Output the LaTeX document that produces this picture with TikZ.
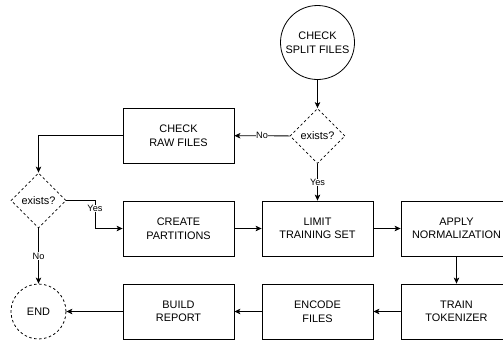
\documentclass[tikz,border=0pt]{standalone}
\usepackage{fontspec}
\setmainfont{Liberation Sans}
\usetikzlibrary{shapes.geometric,arrows.meta}
\begin{document}
\begin{tikzpicture}[x=1pt,y=-1pt,
 box/.style={draw,line width=0.8pt,minimum width=111pt,minimum height=55pt,inner sep=0pt,align=center,font=\fontsize{10.9}{13.5}\selectfont},
 dec/.style={draw,line width=0.8pt,dash pattern=on 2.5pt off 2.5pt,diamond,minimum width=55pt,minimum height=55pt,inner sep=0pt,font=\fontsize{10.9}{13.5}\selectfont},
 term/.style={draw,line width=0.8pt,circle,inner sep=0pt,align=center,font=\fontsize{10.9}{13.5}\selectfont},
 arr/.style={-{Stealth[length=6pt,width=5.5pt,inset=1.5pt]},line width=0.8pt},
 lab/.style={fill=white,inner sep=0.5pt,font=\fontsize{9.2}{11}\selectfont}
]
\useasboundingbox (0,0) rectangle (503,341);
\node[term,minimum size=74pt] (split) at (317.5,42.5) {CHECK\\SPLIT FILES};
\node[dec] (d1) at (317.5,136) {exists?};
\node[box] (raw) at (178.5,135.5) {CHECK\\RAW FILES};
\node[dec] (d2) at (38.5,200.5) {exists?};
\node[box] (create) at (178.5,228.5) {CREATE\\PARTITIONS};
\node[box] (limit) at (317.5,228.5) {LIMIT\\TRAINING SET};
\node[box] (apply) at (456.5,228.5) {APPLY\\NORMALIZATION};
\node[box] (train) at (456.5,311.5) {TRAIN\\TOKENIZER};
\node[box] (encode) at (317.5,311.5) {ENCODE\\FILES};
\node[box] (build) at (178.5,311.5) {BUILD\\REPORT};
\node[term,dash pattern=on 2.5pt off 2.5pt,minimum size=55pt] (end) at (38.5,311.5) {END};
\coordinate (c2) at (95,200.5);
\draw[arr] (split) -- (d1);
\draw[arr] (d1) -- node[lab]{No} (raw);
\draw[arr] (d1) -- node[lab]{Yes} (limit);
\draw[arr] (raw.west) -| (d2.north);
\draw[arr] (d2.east) -- (c2) -- node[lab,pos=0.28]{Yes} (c2 |- create.west) -- (create.west);
\draw[arr] (d2) -- node[lab]{No} (end);
\draw[arr] (create) -- (limit);
\draw[arr] (limit) -- (apply);
\draw[arr] (apply) -- (train);
\draw[arr] (train) -- (encode);
\draw[arr] (encode) -- (build);
\draw[arr] (build) -- (end);
\end{tikzpicture}
\end{document}
